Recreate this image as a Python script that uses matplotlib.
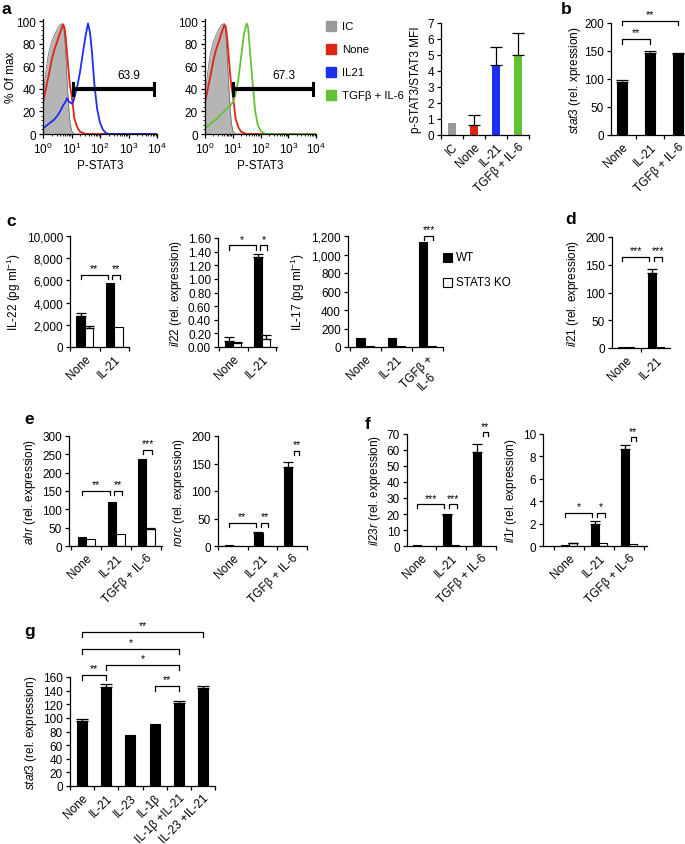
import matplotlib
matplotlib.use('Agg')
import matplotlib.pyplot as plt
import numpy as np
from matplotlib.patches import Rectangle
from matplotlib.ticker import FixedLocator, NullFormatter, LogLocator, MultipleLocator, FuncFormatter

plt.rcParams['font.family'] = ['Liberation Sans', 'DejaVu Sans']
plt.rcParams['mathtext.fontset'] = 'custom'
plt.rcParams['mathtext.rm'] = 'Liberation Sans'
plt.rcParams['mathtext.it'] = 'Liberation Sans:italic'
plt.rcParams['font.size'] = 8.5
plt.rcParams['axes.linewidth'] = 0.9
plt.rcParams['xtick.major.width'] = 0.9
plt.rcParams['ytick.major.width'] = 0.9
plt.rcParams['xtick.major.size'] = 3
plt.rcParams['ytick.major.size'] = 3
plt.rcParams['xtick.major.pad'] = 2
plt.rcParams['ytick.major.pad'] = 2

# ---------------- data ----------------
# panel a: histograms (log10 P-STAT3, % of max)
ic_logx = [0.0, 0.05, 0.1, 0.15, 0.2, 0.3, 0.4, 0.5, 0.6, 0.7, 0.75, 0.8, 0.85, 0.9, 0.95, 1.0, 1.1, 4.0]
ic_pct = [30, 45, 55, 65, 72, 82, 88, 93, 97, 98, 90, 70, 45, 25, 10, 3, 0, 0]
none_logx = [0.0, 0.1, 0.2, 0.3, 0.4, 0.5, 0.6, 0.7, 0.75, 0.8, 0.85, 0.9, 0.95, 1.0, 1.05, 1.1, 1.2, 1.3, 1.5, 4.0]
none_pct = [28, 40, 52, 65, 75, 82, 90, 97, 95, 85, 70, 55, 42, 35, 25, 14, 6, 2, 0, 0]
il21_logx = [0.0, 0.1, 0.2, 0.3, 0.4, 0.5, 0.6, 0.7, 0.8, 0.85, 0.9, 1.0, 1.05, 1.1, 1.2, 1.3, 1.4, 1.5,
             1.58, 1.65, 1.72, 1.8, 1.9, 2.0, 2.1, 2.2, 2.3, 4.0]
il21_pct = [5, 7, 9, 11, 13, 16, 20, 25, 29, 32, 29, 27, 28, 32, 42, 55, 72, 88,
            98, 90, 72, 45, 22, 10, 4, 1, 0, 0]
tgf_logx = [0.0, 0.2, 0.4, 0.6, 0.8, 0.9, 1.0, 1.1, 1.2, 1.3, 1.4, 1.5, 1.55, 1.6, 1.7, 1.8, 1.9, 2.0, 2.1, 2.2, 4.0]
tgf_pct = [5, 9, 13, 18, 23, 25, 28, 35, 48, 68, 88, 98, 95, 80, 50, 22, 8, 3, 1, 0, 0]
gate_labels = ['63.9', '67.3']

# panel a: MFI bars
mfi_cats = ['IC', 'None', 'IL-21', 'TGFβ + IL-6']
mfi_vals = [0.75, 0.65, 4.35, 5.0]
mfi_err = [0.0, 0.6, 1.15, 1.35]
legend_a = ['IC', 'None', 'IL21', 'TGFβ + IL-6']

# panel b
b_cats = ['None', 'IL-21', 'TGFβ + IL-6']
b_vals = [95, 146, 144]
b_err = [4, 4, 3]

# panel c
c1_cats = ['None', 'IL-21']
c1_wt = [2800, 5750]
c1_wt_err = [250, 0]
c1_ko = [1750, 1800]
c1_ko_err = [120, 0]

c2_cats = ['None', 'IL-21']
c2_wt = [0.09, 1.32]
c2_wt_err = [0.05, 0.05]
c2_ko = [0.06, 0.12]
c2_ko_err = [0.01, 0.05]

c3_cats = ['None', 'IL-21', 'TGFβ +\nIL-6']
c3_wt = [95, 95, 1130]
c3_wt_err = [0, 0, 0]
c3_ko = [10, 10, 10]
c3_ko_err = [0, 0, 0]

# panel d
d_cats = ['None', 'IL-21']
d_wt = [2, 135]
d_wt_err = [0, 8]
d_ko = [1.5, 2]
d_ko_err = [0, 0]

# panel e
e_cats = ['None', 'IL-21', 'TGFβ + IL-6']
ahr_wt = [25, 120, 238]
ahr_wt_err = [0, 0, 0]
ahr_ko = [20, 32, 47]
ahr_ko_err = [0, 0, 2]
rorc_wt = [1, 24, 143]
rorc_wt_err = [0, 1, 10]
rorc_ko = [0.5, 0.5, 0.5]
rorc_ko_err = [0, 0, 0]

# panel f
il23r_wt = [0.5, 19.5, 59]
il23r_wt_err = [0, 0.7, 4.5]
il23r_ko = [0.3, 0.5, 0.3]
il23r_ko_err = [0, 0, 0]
il1r_wt = [0.1, 2.0, 8.7]
il1r_wt_err = [0, 0.25, 0.3]
il1r_ko = [0.25, 0.3, 0.15]
il1r_ko_err = [0.05, 0, 0]

# panel g
g_cats = ['None', 'IL-21', 'IL-23', 'IL-1β', 'IL-1β +IL-21', 'IL-23 +IL-21']
g_vals = [95, 146, 75, 91, 122, 144]
g_err = [4, 3, 0, 0, 3, 3]

# ---------------- layout helpers ----------------
W, H = 685, 845
fig = plt.figure(figsize=(W / 100, H / 100), dpi=100)


def add_ax(x0, x1, ytop, ybot):
    return fig.add_axes([x0 / W, 1 - ybot / H, (x1 - x0) / W, (ybot - ytop) / H])


def style_bar_ax(ax, cats, xlim, ylim, yticks, yfmt=None, ylabel='', rot=45, lpad=3):
    n = len(cats)
    ax.set_xlim(*xlim)
    ax.set_ylim(*ylim)
    ax.spines['top'].set_visible(False)
    ax.spines['right'].set_visible(False)
    ax.xaxis.set_major_locator(FixedLocator(list(np.arange(n + 1) - 0.5)))
    ax.xaxis.set_major_formatter(NullFormatter())
    ax.xaxis.set_minor_locator(FixedLocator(list(np.arange(n))))
    ax.set_xticklabels(cats, minor=True, rotation=rot, ha='right', rotation_mode='anchor',
                       multialignment='center')
    ax.tick_params(axis='x', which='minor', length=0, pad=4)
    ax.set_yticks(yticks)
    if yfmt is not None:
        ax.yaxis.set_major_formatter(FuncFormatter(yfmt))
    ax.set_ylabel(ylabel, labelpad=lpad)


def errs(ax, xs, vals, err, capw):
    for x, v, e in zip(xs, vals, err):
        if e > 0:
            ax.errorbar([x], [v], yerr=[[0], [e]], fmt='none', ecolor='black',
                        elinewidth=0.9, capsize=capw, capthick=0.9)


def paired(ax, wt, wt_err, ko, ko_err, w):
    x = np.arange(len(wt))
    ax.bar(x - w / 2, wt, w, color='black', edgecolor='black', linewidth=0.8)
    ax.bar(x + w / 2, ko, w, color='white', edgecolor='black', linewidth=0.8)
    errs(ax, x - w / 2, wt, wt_err, 3.5)
    errs(ax, x + w / 2, ko, ko_err, 3.5)


def single(ax, vals, err, w, colors='black'):
    x = np.arange(len(vals))
    ax.bar(x, vals, w, color=colors, edgecolor='none' if colors != 'black' else 'black', linewidth=0.8)
    errs(ax, x, vals, err, 4)


def bracket(ax, x1, x2, y, drop, text):
    ax.plot([x1, x1, x2, x2], [y - drop, y, y, y - drop], color='black', lw=0.9, clip_on=False)
    ax.text((x1 + x2) / 2, y + drop * 0.4, text, ha='center', va='bottom', fontsize=7.5, clip_on=False)


def panel_label(x, y, s):
    fig.text(x / W, 1 - y / H, s, fontsize=12.5, fontweight='bold', ha='left', va='center')


# ---------------- panel a: histograms ----------------
def hist_ax(x0, x1, curve_x, curve_y, color, glo, ghi, glab, glabx):
    ax = add_ax(x0, x1, 20, 135)
    ax.set_xscale('log')
    ax.set_xlim(1, 1e4)
    ax.set_ylim(0, 102)
    ax.fill_between(10 ** np.array(ic_logx), ic_pct, color='#b5b5b5', lw=0)
    ax.plot(10 ** np.array(ic_logx), ic_pct, color='#666666', lw=0.5)
    ax.plot(10 ** np.array(none_logx), none_pct, color='#e02414', lw=1.3)
    ax.plot(10 ** np.array(curve_x), curve_y, color=color, lw=1.3)
    ax.plot([10 ** glo, 10 ** ghi], [40, 40], color='black', lw=3, solid_capstyle='butt')
    for g in (glo, ghi):
        ax.plot([10 ** g, 10 ** g], [35, 45], color='black', lw=2.2)
    ax.text(10 ** glabx, 47, glab, ha='center', va='bottom', fontsize=8.5)
    ax.set_yticks([0, 20, 40, 60, 80, 100])
    ax.yaxis.set_minor_locator(MultipleLocator(4))
    ax.xaxis.set_major_locator(LogLocator(base=10, numticks=10))
    ax.xaxis.set_minor_locator(LogLocator(base=10, subs=np.arange(2, 10), numticks=10))
    ax.xaxis.set_minor_formatter(NullFormatter())
    ax.tick_params(which='minor', length=1.5, width=0.6)
    ax.spines['top'].set_visible(False)
    ax.spines['right'].set_visible(False)
    ax.set_xlabel('P-STAT3', labelpad=2)
    return ax


h1 = hist_ax(43, 157, il21_logx, il21_pct, '#1a2ff0', 1.06, 3.9, gate_labels[0], 3.0)
h1.set_ylabel('% Of max', labelpad=1)
h1.yaxis.set_label_coords(-0.23, 0.5)
h2 = hist_ax(205, 316, tgf_logx, tgf_pct, '#62c236', 1.02, 3.89, gate_labels[1], 2.83)

# legend a
leg_colors = ['#999999', '#e02414', '#1a2ff0', '#62c236']
for i, (lab, col) in enumerate(zip(legend_a, leg_colors)):
    yc = 27 + i * 23
    fig.patches.append(Rectangle((326 / W, 1 - (yc + 5) / H), 10 / W, 10 / H,
                                 transform=fig.transFigure, color=col))
    fig.text(342 / W, 1 - yc / H, lab, ha='left', va='center', fontsize=8.2)

# MFI bars
axm = add_ax(441, 529, 24, 136)
single(axm, mfi_vals, mfi_err, 0.38, colors=['#999999', '#e02414', '#1a2ff0', '#62c236'])
style_bar_ax(axm, mfi_cats, (-0.5, 3.5), (0, 7), range(0, 8), ylabel='p-STAT3/STAT3 MFI', lpad=4)

# ---------------- panel b ----------------
axb = add_ax(611, 685, 24, 136)
single(axb, b_vals, b_err, 0.36)
style_bar_ax(axb, b_cats, (-0.4, 2.25), (0, 200), [0, 50, 100, 150, 200],
             ylabel=r'$\it{stat3}$ (rel. xpression)', lpad=1)
bracket(axb, 0, 1, 171, 8, '**')
bracket(axb, 0, 2, 204, 8, '**')

# ---------------- panel c ----------------
w2 = 0.28
axc1 = add_ax(70, 129, 237, 348)
paired(axc1, c1_wt, c1_wt_err, c1_ko, c1_ko_err, w2)
style_bar_ax(axc1, c1_cats, (-0.5, 1.5), (0, 10000), range(0, 10001, 2000),
             yfmt=lambda v, p: f'{int(v):,}', ylabel=r'IL-22 (pg ml$^{-1}$)')
bracket(axc1, -w2 / 2, 1 - w2 / 2 - 0.08, 6500, 350, '**')
bracket(axc1, 1 - w2 / 2 + 0.08, 1 + w2 / 2 + 0.05, 6500, 350, '**')

axc2 = add_ax(218, 277, 239, 348)
paired(axc2, c2_wt, c2_wt_err, c2_ko, c2_ko_err, w2)
style_bar_ax(axc2, c2_cats, (-0.52, 1.52), (0, 1.6), np.arange(0, 1.61, 0.2),
             yfmt=lambda v, p: f'{v:.2f}', ylabel=r'$\it{il22}$ (rel. expression)')
bracket(axc2, -w2 / 2, 1 - w2 / 2 - 0.08, 1.49, 0.06, '*')
bracket(axc2, 1 - w2 / 2 + 0.08, 1 + w2 / 2 + 0.05, 1.49, 0.06, '*')

axc3 = add_ax(348, 443, 237, 348)
paired(axc3, c3_wt, c3_wt_err, c3_ko, c3_ko_err, w2)
style_bar_ax(axc3, c3_cats, (-0.55, 2.5), (0, 1200), range(0, 1201, 200),
             yfmt=lambda v, p: f'{int(v):,}', ylabel=r'IL-17 (pg ml$^{-1}$)')
bracket(axc3, 2 - w2 / 2 + 0.02, 2 + w2 / 2 + 0.05, 1200, 40, '***')

# legend WT / KO
fig.patches.append(Rectangle((443 / W, 1 - 263 / H), 9 / W, 9 / H, transform=fig.transFigure,
                             facecolor='black', edgecolor='black', lw=0.8))
fig.text(456 / W, 1 - 258 / H, 'WT', ha='left', va='center', fontsize=8.5)
fig.patches.append(Rectangle((443 / W, 1 - 288 / H), 9 / W, 9 / H, transform=fig.transFigure,
                             facecolor='white', edgecolor='black', lw=0.8))
fig.text(456 / W, 1 - 283 / H, 'STAT3 KO', ha='left', va='center', fontsize=8.5)

# ---------------- panel d ----------------
axd = add_ax(612, 670, 238, 349)
paired(axd, d_wt, d_wt_err, d_ko, d_ko_err, w2)
style_bar_ax(axd, d_cats, (-0.47, 1.47), (0, 200), [0, 50, 100, 150, 200],
             ylabel=r'$\it{il21}$ (rel. expression)')
bracket(axd, -w2 / 2, 1 - w2 / 2 - 0.08, 164, 8, '***')
bracket(axd, 1 - w2 / 2 + 0.08, 1 + w2 / 2 + 0.05, 164, 8, '***')

# ---------------- panel e ----------------
axe1 = add_ax(69, 162, 437, 547)
paired(axe1, ahr_wt, ahr_wt_err, ahr_ko, ahr_ko_err, w2)
style_bar_ax(axe1, e_cats, (-0.57, 2.53), (0, 300), range(0, 301, 50),
             ylabel=r'$\it{ahr}$ (rel. expression)')
bracket(axe1, -w2 / 2, 1 - w2 / 2 - 0.08, 150, 11, '**')
bracket(axe1, 1 - w2 / 2 + 0.08, 1 + w2 / 2 + 0.05, 150, 11, '**')
bracket(axe1, 2 - w2 / 2 + 0.05, 2 + w2 / 2 + 0.05, 262, 11, '***')

axe2 = add_ax(218, 307, 437, 547)
paired(axe2, rorc_wt, rorc_wt_err, rorc_ko, rorc_ko_err, w2)
style_bar_ax(axe2, e_cats, (-0.5, 2.5), (0, 200), range(0, 201, 50),
             ylabel=r'$\it{rorc}$ (rel. expression)')
bracket(axe2, -w2 / 2, 1 - w2 / 2 - 0.08, 42, 7, '**')
bracket(axe2, 1 - w2 / 2 + 0.08, 1 + w2 / 2 + 0.05, 42, 7, '**')
bracket(axe2, 2 + 0.05, 2 + w2 / 2 + 0.1, 173, 7, '**')

# ---------------- panel f ----------------
axf1 = add_ax(407, 496, 435, 547)
paired(axf1, il23r_wt, il23r_wt_err, il23r_ko, il23r_ko_err, w2)
style_bar_ax(axf1, e_cats, (-0.47, 2.5), (0, 70), range(0, 71, 10),
             ylabel=r'$\it{il23r}$ (rel. expression)')
bracket(axf1, -w2 / 2, 1 - w2 / 2 - 0.08, 26, 2.5, '***')
bracket(axf1, 1 - w2 / 2 + 0.08, 1 + w2 / 2 + 0.05, 26, 2.5, '***')
bracket(axf1, 2 + 0.05, 2 + w2 / 2 + 0.1, 71, 2.5, '**')

axf2 = add_ax(543, 647, 435, 547)
paired(axf2, il1r_wt, il1r_wt_err, il1r_ko, il1r_ko_err, w2)
style_bar_ax(axf2, e_cats, (-0.87, 2.6), (0, 10), range(0, 11, 2),
             ylabel=r'$\it{il1r}$ (rel. expression)')
bracket(axf2, -w2 / 2, 1 - w2 / 2 - 0.08, 2.95, 0.35, '*')
bracket(axf2, 1 - w2 / 2 + 0.08, 1 + w2 / 2 + 0.05, 2.95, 0.35, '*')
bracket(axf2, 2 + 0.05, 2 + w2 / 2 + 0.1, 9.7, 0.35, '**')

# ---------------- panel g ----------------
axg = add_ax(70, 215, 678, 787)
single(axg, g_vals, g_err, 0.42)
style_bar_ax(axg, g_cats, (-0.5, 5.5), (0, 160), range(0, 161, 20),
             ylabel=r'$\it{stat3}$ (rel. expression)')
bracket(axg, 0, 1, 163, 7, '**')
bracket(axg, 3, 4, 147, 7, '**')
bracket(axg, 1, 4, 178, 7, '*')
bracket(axg, 0, 4, 201, 7, '*')
bracket(axg, 0, 5, 226, 7, '**')

# ---------------- panel labels ----------------
panel_label(2, 10, 'a')
panel_label(561, 10, 'b')
panel_label(6, 222, 'c')
panel_label(565, 220, 'd')
panel_label(24, 420, 'e')
panel_label(365, 425, 'f')
panel_label(24, 632, 'g')

fig.savefig('out.png', dpi=100)
